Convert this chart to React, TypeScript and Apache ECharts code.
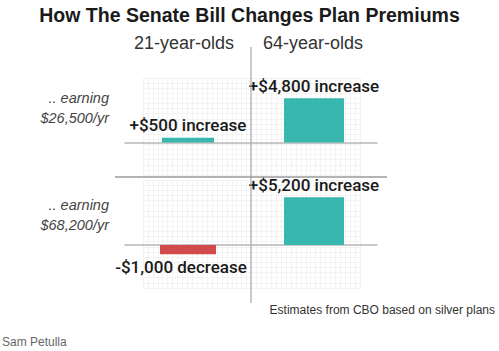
import React, { useEffect, useRef } from "react";
import * as echarts from "echarts";

const groups = ["21-year-olds", "64-year-olds"];
const incomes = ["$26,500/yr", "$68,200/yr"];
const lowIncomeChange = [500, 4800];
const highIncomeChange = [-1000, 5200];

const TEAL = "#37b7ae";
const RED = "#d34a4a";

const fmt = (v: number) =>
  (v >= 0 ? "+$" : "-$") + Math.abs(v).toLocaleString("en-US") + (v >= 0 ? " increase" : " decrease");

export default function App() {
  const ref = useRef<HTMLDivElement>(null);
  useEffect(() => {
    document.body.style.margin = "0";
    const chart = echarts.init(ref.current!, null, { renderer: "svg" });
    const lbl = (v: number, extra: any = {}) => ({
      show: true,
      position: v >= 0 ? "top" : "bottom",
      distance: 4,
      formatter: () => fmt(v),
      fontFamily: "Roboto",
      fontWeight: 500,
      fontSize: 17,
      color: "#1a1a1a",
      ...extra,
    });
    const catAxis = (grid: number, visible: boolean) => ({
      type: "category",
      gridIndex: grid,
      data: groups,
      show: visible,
      axisLine: { show: visible, onZero: true, lineStyle: { color: "#b8b8b8", width: 1.5 } },
      axisTick: { show: false },
      axisLabel: { show: false },
      splitLine: { show: false },
    });
    const valAxis = (grid: number, min: number, max: number) => ({
      type: "value",
      gridIndex: grid,
      min,
      max,
      show: false,
    });
    const faintAxis = (grid: number, max: number) => ({
      type: "value",
      gridIndex: grid,
      min: 0,
      max,
      interval: 1,
      axisLine: { show: false },
      axisTick: { show: false },
      axisLabel: { show: false },
      splitLine: { show: true, lineStyle: { color: "#f3f3f3", width: 1 } },
    });
    const option: any = {
      animation: false,
      backgroundColor: "#ffffff",
      title: {
        text: "How The Senate Bill Changes Plan Premiums",
        left: "center",
        top: 0,
        textStyle: { fontFamily: "Liberation Sans", fontWeight: "bold", fontSize: 19.5, color: "#1a1a1a" },
      },
      grid: [
        { left: 125, right: 122, top: 78, height: 92 },
        { left: 125, right: 122, top: 190, height: 101 },
        { left: 143, right: 139, top: 78, height: 97 },
        { left: 143, right: 139, top: 180, height: 108 },
      ],
      xAxis: [
        catAxis(0, true),
        catAxis(0, false),
        catAxis(1, true),
        catAxis(1, false),
        faintAxis(2, 44),
        faintAxis(3, 44),
      ],
      yAxis: [
        valAxis(0, -3000, 7000),
        valAxis(1, -5000, 6000),
        faintAxis(2, 19),
        faintAxis(3, 21),
      ],
      series: [
        {
          type: "bar",
          xAxisIndex: 0,
          yAxisIndex: 0,
          barWidth: 52,
          data: [
            { value: lowIncomeChange[0], itemStyle: { color: lowIncomeChange[0] >= 0 ? TEAL : RED }, label: lbl(lowIncomeChange[0]) },
            "-",
          ],
        },
        {
          type: "bar",
          xAxisIndex: 1,
          yAxisIndex: 0,
          barWidth: 60,
          data: [
            "-",
            { value: lowIncomeChange[1], itemStyle: { color: lowIncomeChange[1] >= 0 ? TEAL : RED }, label: lbl(lowIncomeChange[1]) },
          ],
        },
        {
          type: "bar",
          xAxisIndex: 2,
          yAxisIndex: 1,
          barWidth: 56,
          data: [
            { value: highIncomeChange[0], itemStyle: { color: highIncomeChange[0] >= 0 ? TEAL : RED }, label: lbl(highIncomeChange[0], { offset: [-7, 0] }) },
            "-",
          ],
        },
        {
          type: "bar",
          xAxisIndex: 3,
          yAxisIndex: 1,
          barWidth: 60,
          data: [
            "-",
            { value: highIncomeChange[1], itemStyle: { color: highIncomeChange[1] >= 0 ? TEAL : RED }, label: lbl(highIncomeChange[1]) },
          ],
        },
      ],
      graphic: [
        { type: "line", shape: { x1: 251, y1: 47, x2: 251, y2: 303 }, style: { stroke: "#a8a8a8", lineWidth: 1.2 }, z: 10 },
        { type: "line", shape: { x1: 115, y1: 177, x2: 387, y2: 177 }, style: { stroke: "#9a9a9a", lineWidth: 1.5 }, z: 10 },
        { type: "text", x: 184, y: 43, style: { text: groups[0], fontFamily: "Liberation Sans", fontSize: 18, fill: "#333", align: "center", verticalAlign: "middle" } },
        { type: "text", x: 313, y: 43, style: { text: groups[1], fontFamily: "Liberation Sans", fontSize: 18, fill: "#333", align: "center", verticalAlign: "middle" } },
        { type: "text", x: 109, y: 98, style: { text: ".. earning", fontFamily: "Liberation Sans", fontStyle: "italic", fontSize: 14.5, fill: "#444", align: "right", verticalAlign: "middle" } },
        { type: "text", x: 109, y: 118, style: { text: incomes[0], fontFamily: "Liberation Sans", fontStyle: "italic", fontSize: 14.5, fill: "#444", align: "right", verticalAlign: "middle" } },
        { type: "text", x: 109, y: 205, style: { text: ".. earning", fontFamily: "Liberation Sans", fontStyle: "italic", fontSize: 14.5, fill: "#444", align: "right", verticalAlign: "middle" } },
        { type: "text", x: 109, y: 225, style: { text: incomes[1], fontFamily: "Liberation Sans", fontStyle: "italic", fontSize: 14.5, fill: "#444", align: "right", verticalAlign: "middle" } },
        { type: "text", x: 495, y: 310, style: { text: "Estimates from CBO based on silver plans", fontFamily: "Liberation Sans", fontSize: 12, fill: "#333", align: "right", verticalAlign: "middle" } },
        { type: "text", x: 2, y: 342, style: { text: "Sam Petulla", fontFamily: "Liberation Sans", fontSize: 12, fill: "#666", align: "left", verticalAlign: "middle" } },
      ],
    };
    chart.setOption(option);
    return () => chart.dispose();
  }, []);
  return <div ref={ref} style={{ width: 499, height: 351 }} />;
}
